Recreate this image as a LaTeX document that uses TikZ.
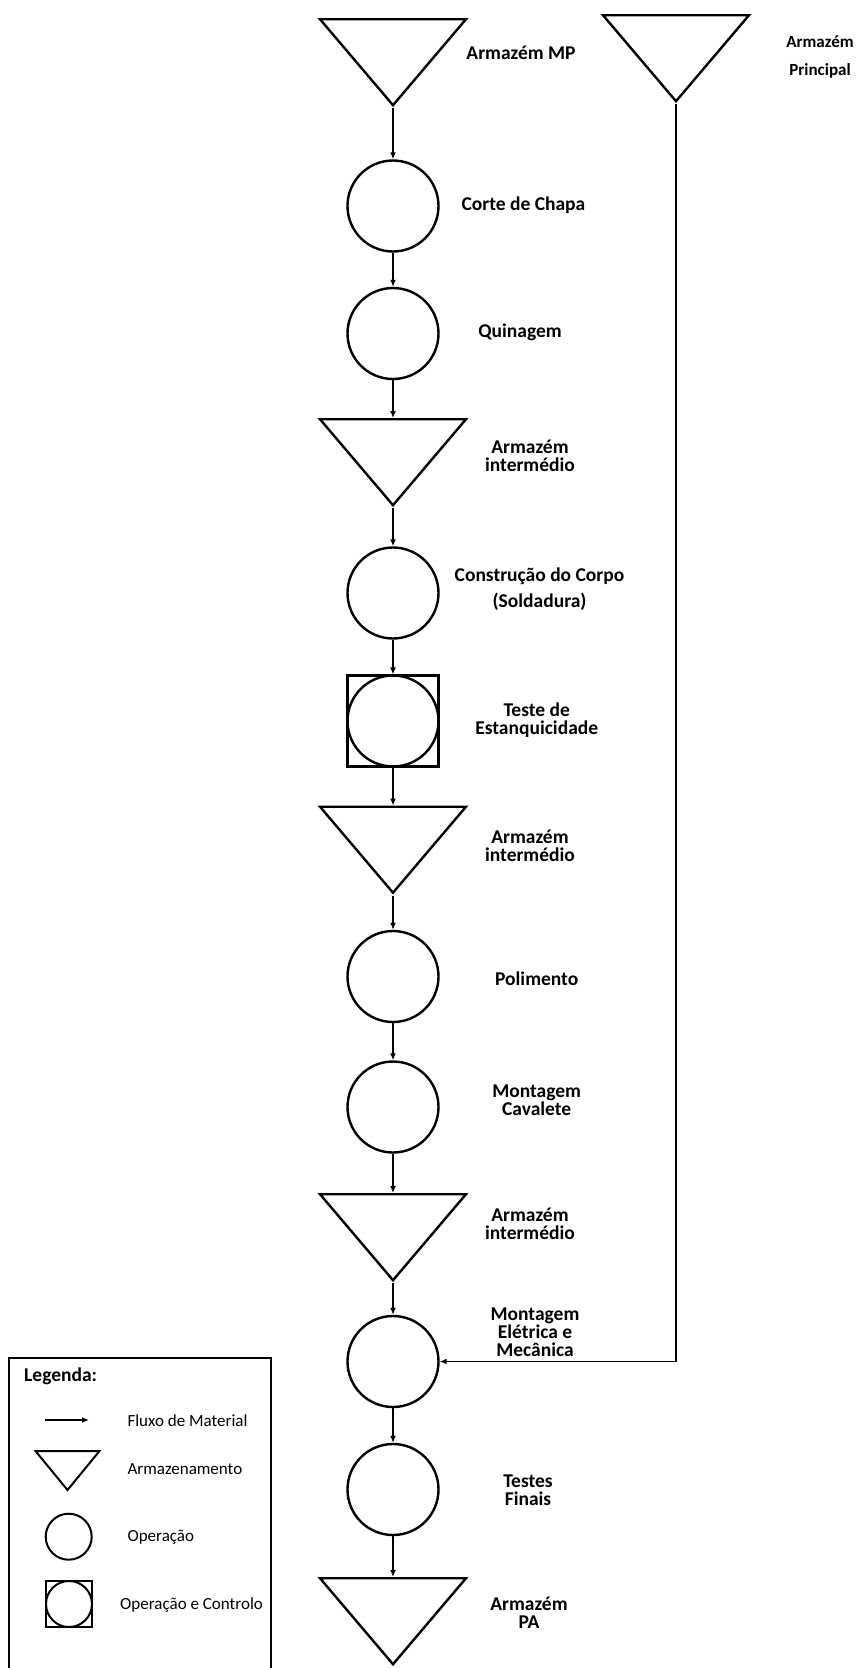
\documentclass[tikz,border=0pt]{standalone}
\usepackage{fontspec}
\setmainfont{Carlito}
\usetikzlibrary{arrows.meta,positioning,shapes.geometric}
\tikzset{
    opnode/.style={draw, circle, line width=2.4pt, minimum size=91pt, inner sep=0pt},
    ctrlnode/.style={draw, rectangle, line width=2.2pt, minimum size=91pt, inner sep=0pt},
    stocknode/.style={draw, isosceles triangle, shape border rotate=270, isosceles triangle stretches, line width=2.4pt, minimum width=146pt, minimum height=86pt, inner sep=0pt, anchor=north},
    steplabel/.style={font=\bfseries\fontsize{19.5}{18}\selectfont, align=center},
    legtext/.style={font=\fontsize{17}{20}\selectfont, anchor=west},
    flow/.style={-{Latex[length=7pt,width=6pt]}, line width=1.8pt}
}

\begin{document}
\begin{tikzpicture}[x=1pt, y=-1pt]
        \useasboundingbox (0,0) rectangle (866,1668);
        % main flow
        \node[stocknode] (t1) at (393,18) {};
        \node[stocknode] (tp) at (676,14) {};
        \node[opnode] (c1) at (393,206) {};
        \node[opnode] (c2) at (393,333.5) {};
        \node[stocknode] (t2) at (393,418) {};
        \node[opnode] (c3) at (393,593) {};
        \node[ctrlnode] (s1) at (393,721) {};
        \node[opnode] (s1c) at (s1) {};
        \node[stocknode] (t3) at (393,805.5) {};
        \node[opnode] (c4) at (393,976.5) {};
        \node[opnode] (c5) at (393,1107) {};
        \node[stocknode] (t4) at (393,1193) {};
        \node[opnode] (c6) at (393,1361.5) {};
        \node[opnode] (c7) at (393,1489.5) {};
        \node[stocknode] (t5) at (393,1577) {};
        % labels
        \node[steplabel] (lmp) at (521,53) {Armazém MP};
        \node[steplabel, font=\bfseries\fontsize{17}{28}\selectfont] (lprinc) at (820,57) {Armazém\\Principal};
        \node[steplabel] (l1) at (523.5,205) {Corte de Chapa};
        \node[steplabel] (l2) at (520,332) {Quinagem};
        \node[steplabel] (lt2) at (530,455.5) {Armazém\\intermédio};
        \node[steplabel] (l3) at (539.5,589) {Construção do Corpo\\[7.7pt](Soldadura)};
        \node[steplabel] (ls) at (536.7,720.5) {Teste de\\Estanquicidade};
        \node[steplabel] (lt3) at (530,846) {Armazém\\intermédio};
        \node[steplabel] (l4) at (536.7,979) {Polimento};
        \node[steplabel] (l5) at (536.7,1100) {Montagem\\Cavalete};
        \node[steplabel] (lt4) at (530,1224) {Armazém\\intermédio};
        \node[steplabel] (l6) at (535,1332) {Montagem\\Elétrica e\\Mecânica};
        \node[steplabel] (l7) at (528,1490) {Testes\\Finais};
        \node[steplabel] (lt5) at (529,1613) {Armazém\\PA};
        % arrows
        \draw[flow] (t1.apex) -- (c1);
        \draw[flow] (c1) -- (c2);
        \draw[flow] (c2) -- (t2);
        \draw[flow] (t2.apex) -- (c3);
        \draw[flow] (c3) -- (s1);
        \draw[flow] (s1) -- (t3);
        \draw[flow] (t3.apex) -- (c4);
        \draw[flow] (c4) -- (c5);
        \draw[flow] (c5) -- (t4);
        \draw[flow] (t4.apex) -- (c6);
        \draw[flow] (c6) -- (c7);
        \draw[flow] (c7) -- (t5);
        \draw[flow] (tp.apex) |- (c6.east);
        % legend
        \draw[line width=2pt] (9,1700) |- (270.5,1358) -- (270.5,1700);
        \node[steplabel, anchor=west] (leg) at (20.7,1376) {Legenda:};
        \coordinate (la0) at (45,1420);
        \coordinate (la1) at (89,1420);
        \draw[flow] (la0) -- (la1);
        \node[legtext] (lgflow) at (124,1421) {Fluxo de Material};
        \node[stocknode, minimum width=64pt, minimum height=39pt, line width=2pt] (lgtri) at (67.5,1450) {};
        \node[legtext] (lgstock) at (124,1469) {Armazenamento};
        \node[opnode, minimum size=46pt, line width=2pt] (lgop) at (68.7,1536.7) {};
        \node[legtext] (lgoptxt) at (124,1537) {Operação};
        \node[ctrlnode, minimum size=46pt, line width=2pt] (lgctrl) at (69,1604) {};
        \node[opnode, minimum size=46pt, line width=2pt] (lgctrlc) at (lgctrl) {};
        \node[legtext] (lgctrltxt) at (116.7,1605) {Operação e Controlo};
    \end{tikzpicture}
\end{document}
